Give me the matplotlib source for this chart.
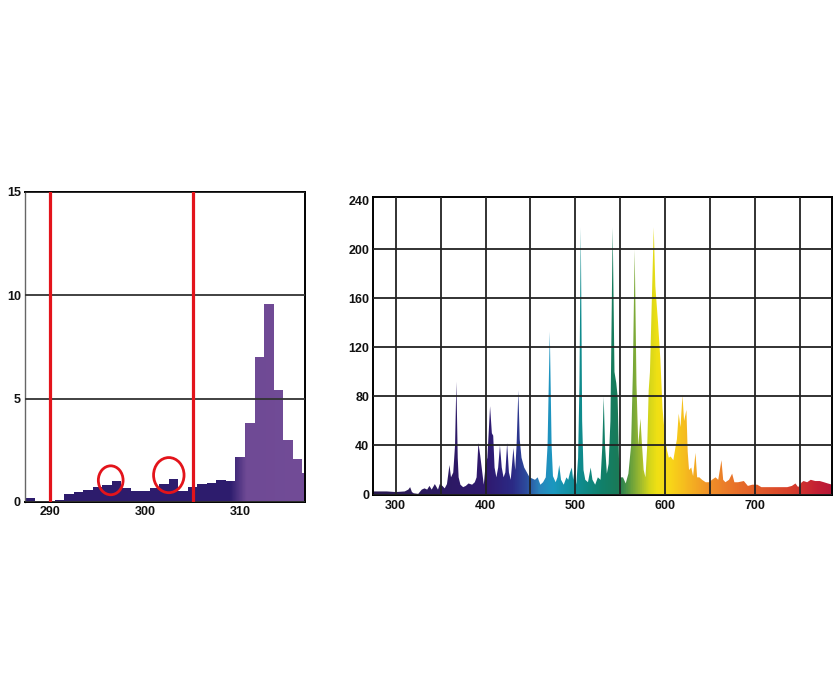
import numpy as np
import matplotlib
matplotlib.use('Agg')
import matplotlib.pyplot as plt
from matplotlib import font_manager
from matplotlib.colors import LinearSegmentedColormap
from matplotlib.patches import Polygon, Ellipse

tick_font = font_manager.FontProperties(family=['Liberation Sans', 'DejaVu Sans'],
                                        weight='bold', size=9)

# left panel: UV histogram (1 nm bins)
uv_centers = np.arange(288, 318)
uv_values = [0.2, 0.05, 0.0, 0.1, 0.4, 0.5, 0.6, 0.75, 0.8, 1.0,
             0.7, 0.55, 0.55, 0.7, 0.85, 1.1, 0.55, 0.75, 0.85, 0.9,
             1.05, 1.0, 2.2, 3.8, 7.0, 9.6, 5.4, 3.0, 2.1, 1.4]
uv_limits = [290, 305]
hl_x = [296.4, 302.5]
hl_y = [1.05, 1.3]

# right panel: lamp spectrum
wl = [275, 290, 300, 310, 314, 316, 318, 320, 325, 329, 332, 335, 337.5, 340,
      343.5, 347, 349, 352, 354.5, 357, 359.8, 361.5, 364, 366, 367.5, 369, 370,
      372, 375, 378, 381, 385, 388, 390, 392, 394, 396, 398, 400, 402, 405, 407,
      408.5, 410, 412, 414, 416, 418, 420, 422, 424, 426, 428, 431, 433, 434.5,
      436.5, 438, 440, 443, 446, 449, 452, 455, 458, 461, 464, 467, 469, 471.5,
      473.5, 475, 478, 480, 482, 484, 487, 490, 492, 494, 496, 497.5, 499, 501,
      503, 504.5, 506, 507.5, 509, 511, 514, 517, 519, 522, 525, 528, 530, 531.5,
      533, 535, 537, 539, 541.5, 543.5, 545.5, 547, 548.5, 550, 553, 556, 559,
      562, 564, 566, 568, 570, 572.4, 574, 576, 578, 580, 581.6, 583, 587.2, 589,
      592, 594.6, 597, 600, 602, 604, 606, 609, 611.5, 613, 615, 617, 619.2, 621,
      623.6, 625, 626.5, 629, 631, 633.7, 635.5, 638, 641, 645, 649, 652, 656,
      659, 662.6, 664.5, 667, 671, 674.5, 677, 681, 687.5, 692, 697, 702.5, 707,
      713.6, 720, 728, 735.9, 741, 745, 748, 752, 754, 758, 762, 767, 772, 776.7,
      781, 786]
power = [2.5, 2.5, 2, 2.5, 4, 6, 2, 1, 0.5, 4, 5, 4, 7, 4,
         8.5, 4, 8.5, 7, 5, 8.5, 24, 14, 18, 40, 92, 30, 14,
         8, 6, 7, 9, 8, 10, 14, 42, 32, 20, 8, 24, 30, 72, 50,
         48, 22, 14, 22, 40, 22, 14, 18, 42, 18, 12, 38, 20, 40,
         85, 45, 30, 22, 18, 14, 13, 12, 14, 8, 10, 14, 40, 133,
         40, 15, 10, 14, 24, 12, 8, 14, 12, 18, 22, 12, 20, 8,
         30, 90, 218, 60, 20, 12, 10, 22, 12, 8, 14, 12, 40, 80,
         40, 17, 25, 60, 218, 100, 91, 80, 30, 14, 14, 9, 17,
         40, 100, 200, 90, 40, 62, 42, 20, 14, 40, 85, 100, 218, 170,
         140, 110, 70, 45, 36, 30, 31, 28, 39, 45, 66, 55, 81, 60,
         69, 35, 20, 22, 15, 34, 14, 14, 12, 10, 10, 12, 14,
         12, 28, 12, 10, 12, 17, 10, 10, 11, 7, 8, 8, 6,
         6, 6, 6, 6, 7, 9, 6, 10, 11, 10, 12, 11, 11, 10,
         9, 8]

spec_anchor_wl = [275, 350, 400, 430, 445, 460, 475, 495, 510, 530, 548, 560,
                  572, 582, 592, 605, 625, 650, 680, 710, 740, 770, 786]
spec_anchor_col = ['#2a1b50', '#2c1a62', '#30196f', '#2b2a85', '#2d4a9c',
                   '#2a84bc', '#1b98c0', '#12909e', '#0f8a88', '#11806a',
                   '#1a7a58', '#5a9a40', '#9ab830', '#d0d41c', '#f0e014',
                   '#f8d818', '#f5b820', '#f09028', '#e8702a', '#e0582a',
                   '#d8402c', '#c42034', '#b81838']

fig = plt.figure(figsize=(8.4, 7), dpi=100)
fig.patch.set_facecolor('white')

def style_axes(ax):
    for s in ax.spines.values():
        s.set_linewidth(1.4)
        s.set_color('black')
    ax.tick_params(length=0)
    for lab in ax.get_xticklabels() + ax.get_yticklabels():
        lab.set_fontproperties(tick_font)
        lab.set_color('#111111')
    ax.set_axisbelow(False)


# ---- left panel
ax1 = fig.add_axes([25 / 840, 1 - 502 / 700, 280 / 840, 310 / 700])
x0, x1 = 287.4, 316.8
edges = np.append(uv_centers - 0.5, uv_centers[-1] + 0.5)
step = ax1.stairs(uv_values, edges, fill=True, baseline=0,
                  facecolor='none', edgecolor='none')
uv_cmap = LinearSegmentedColormap.from_list(
    'uv', [(0, '#2d1c6c'), ((309.0 - x0) / (x1 - x0), '#2e1d6e'),
           ((310.7 - x0) / (x1 - x0), '#6f4a95'), (1, '#724c97')])
im1 = ax1.imshow(np.linspace(0, 1, 600).reshape(1, -1), extent=[x0, x1, 0, 15],
                 aspect='auto', cmap=uv_cmap, origin='lower', zorder=1)
im1.set_clip_path(step)
for v in uv_limits:
    ax1.axvline(v, color='#e3141b', lw=2.3, zorder=3)
ew = [2.6, 3.2]
eh = [1.4, 1.7]
for cx, cy, w, h in zip(hl_x, hl_y, ew, eh):
    ax1.add_patch(Ellipse((cx, cy), w, h, fill=False, edgecolor='#e3141b',
                          lw=2, zorder=4))
ax1.set_xlim(x0, x1)
ax1.set_ylim(0, 15)
ax1.set_xticks([290, 300, 310])
ax1.set_yticks([0, 5, 10, 15])
ax1.yaxis.grid(True, color='#333333', lw=1.3)
ax1.tick_params(axis='x', pad=3)
ax1.tick_params(axis='y', pad=3)
style_axes(ax1)
ax1.spines['left'].set_color('#666666')
ax1.spines['left'].set_linewidth(1.0)

# ---- right panel
ax2 = fig.add_axes([373.3 / 840, 1 - 494.5 / 700, 459 / 840, 297.8 / 700])
sx0, sx1 = 275, 786
verts = np.column_stack([np.r_[wl[0], wl, wl[-1]], np.r_[0, power, 0]])
poly = Polygon(verts, closed=True, facecolor='none', edgecolor='none')
ax2.add_patch(poly)
spec_cmap = LinearSegmentedColormap.from_list(
    'spec', [((w - sx0) / (sx1 - sx0), c) for w, c in zip(spec_anchor_wl, spec_anchor_col)])
im2 = ax2.imshow(np.linspace(0, 1, 1000).reshape(1, -1), extent=[sx0, sx1, 0, 243],
                 aspect='auto', cmap=spec_cmap, origin='lower', zorder=1)
im2.set_clip_path(poly)
ax2.set_xlim(sx0, sx1)
ax2.set_ylim(0, 243)
ax2.set_xticks([300, 400, 500, 600, 700])
ax2.set_xticks([350, 450, 550, 650, 750], minor=True)
ax2.set_yticks([0, 40, 80, 120, 160, 200, 240])
ax2.grid(True, which='both', color='#222222', lw=1.3)
ax2.get_ygridlines()[-1].set_visible(False)
ax2.tick_params(which='minor', length=0)
ax2.tick_params(axis='x', pad=4)
ax2.tick_params(axis='y', pad=3)
style_axes(ax2)

fig.savefig('out.png', dpi=100)
